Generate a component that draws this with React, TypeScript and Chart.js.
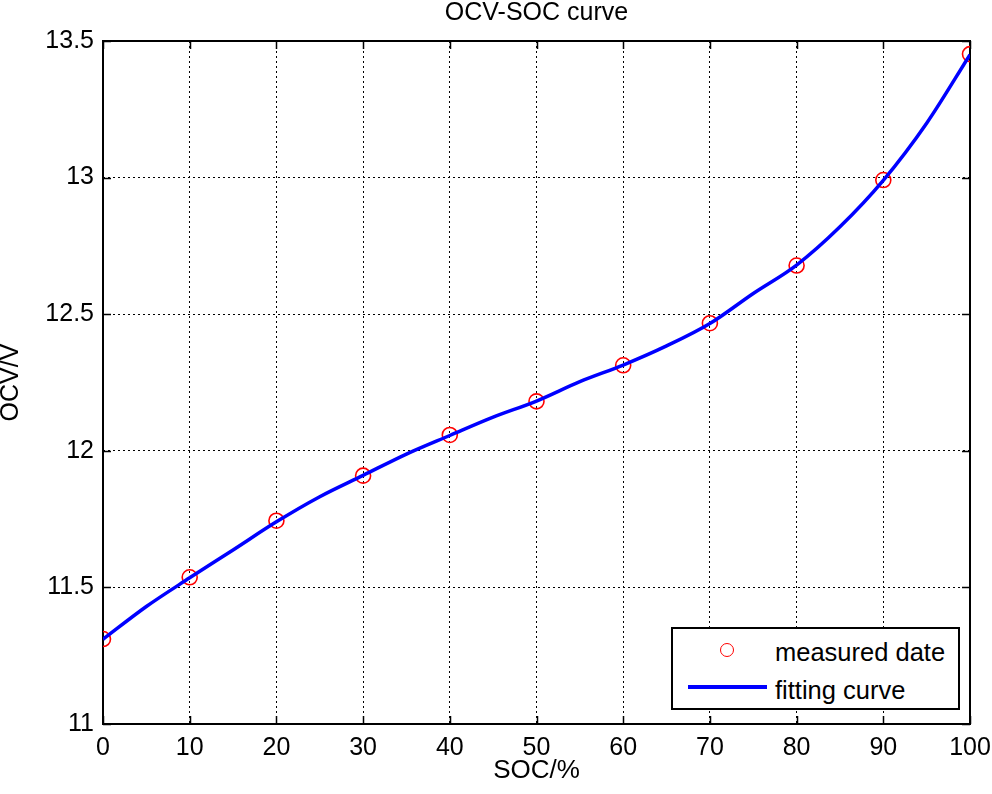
import React, { useEffect, useRef } from 'react';
import { Chart, registerables } from 'chart.js';

Chart.register(...registerables);

// ---- data ----
const socMeasured = [0, 10, 20, 30, 40, 50, 60, 70, 80, 90, 100];
const ocvMeasured = [11.311, 11.537, 11.744, 11.909, 12.058, 12.181, 12.313, 12.467, 12.678, 12.991, 13.452];

const socFit = [0, 5, 10, 15, 20, 25, 30, 35, 40, 45, 50, 55, 60, 65, 70, 75, 80, 85, 90, 95, 100];
const ocvFit = [11.31, 11.43, 11.535, 11.637, 11.74, 11.832, 11.91, 11.988, 12.056, 12.123, 12.182, 12.253, 12.314, 12.384, 12.466, 12.576, 12.68, 12.82, 12.99, 13.199, 13.45];

const xTicks = [0, 10, 20, 30, 40, 50, 60, 70, 80, 90, 100];
const yTicks = [11, 11.5, 12, 12.5, 13, 13.5];

const titleText = 'OCV-SOC curve';
const xLabel = 'SOC/%';
const yLabel = 'OCV/V';
const legendMeasured = 'measured date';
const legendFit = 'fitting curve';

const FONT = "'Liberation Sans', Arial, Helvetica, sans-serif";

const framePlugin = {
  id: 'matlabFrame',
  beforeDatasetsDraw(chart: any) {
    const { ctx, chartArea, scales } = chart;
    const { left, right, top, bottom } = chartArea;
    const x = scales.x;
    const y = scales.y;
    ctx.save();
    ctx.setLineDash([]);
    ctx.strokeStyle = '#000';
    ctx.lineWidth = 1.5;
    ctx.beginPath();
    const tl = 8;
    for (const t of x.ticks) {
      const px = Math.round(x.getPixelForValue(t.value)) + 0.5;
      ctx.moveTo(px, bottom);
      ctx.lineTo(px, bottom - tl);
      ctx.moveTo(px, top);
      ctx.lineTo(px, top + tl);
    }
    for (const t of y.ticks) {
      const py = Math.round(y.getPixelForValue(t.value)) + 0.5;
      ctx.moveTo(left, py);
      ctx.lineTo(left + tl, py);
      ctx.moveTo(right, py);
      ctx.lineTo(right - tl, py);
    }
    ctx.stroke();
    ctx.lineWidth = 2;
    ctx.strokeRect(left, top, right - left, bottom - top);
    ctx.restore();
  },
};

export default function App() {
  const canvasRef = useRef<HTMLCanvasElement | null>(null);

  useEffect(() => {
    const canvas = canvasRef.current;
    if (!canvas) return;
    const chart = new Chart(canvas, {
      type: 'scatter',
      data: {
        datasets: [
          {
            type: 'line',
            label: legendFit,
            data: socFit.map((s, i) => ({ x: s, y: ocvFit[i] })),
            borderColor: '#0000ff',
            backgroundColor: '#0000ff',
            borderWidth: 3.5,
            pointRadius: 0,
            showLine: true,
            fill: false,
            cubicInterpolationMode: 'monotone',
            order: 0,
          } as any,
          {
            type: 'scatter',
            label: legendMeasured,
            data: socMeasured.map((s, i) => ({ x: s, y: ocvMeasured[i] })),
            borderColor: '#ff0000',
            backgroundColor: 'rgba(0,0,0,0)',
            borderWidth: 1.6,
            pointRadius: 7.5,
            pointStyle: 'circle',
            showLine: false,
            order: 1,
          } as any,
        ],
      },
      options: {
        responsive: false,
        animation: false,
        layout: { padding: { left: 0, right: 22, top: 0, bottom: 0 } },
        plugins: {
          legend: { display: false },
          tooltip: { enabled: false },
          title: { display: false },
        },
        scales: {
          xTop: {
            type: 'linear',
            position: 'top',
            min: 0,
            max: 100,
            ticks: { display: false },
            grid: { display: false, drawTicks: false },
            border: { display: false },
            afterFit: (scale: any) => {
              scale.height = 41;
              scale.paddingLeft = 0;
              scale.paddingRight = 0;
            },
            title: {
              display: true,
              text: titleText,
              color: '#000',
              font: { family: FONT, size: 25, weight: 'normal', lineHeight: 1 },
              padding: { top: 1, bottom: 0 },
            },
          },
          x: {
            type: 'linear',
            position: 'bottom',
            min: 0,
            max: 100,
            afterBuildTicks: (scale: any) => {
              scale.ticks = xTicks.map((v) => ({ value: v }));
            },
            afterFit: (scale: any) => {
              scale.height = 70;
              scale.paddingLeft = 0;
              scale.paddingRight = 0;
            },
            ticks: {
              color: '#000',
              font: { family: FONT, size: 25 },
              padding: 9,
              maxRotation: 0,
              autoSkip: false,
              callback: (v: any) => String(v),
            },
            grid: { color: '#000', lineWidth: 1, drawTicks: false },
            border: { display: false, dash: [2, 3] },
            title: {
              display: true,
              text: xLabel,
              color: '#000',
              font: { family: FONT, size: 26, lineHeight: 1 },
              padding: { top: 0, bottom: 10 },
            },
          },
          y: {
            type: 'linear',
            min: 11,
            max: 13.5,
            afterBuildTicks: (scale: any) => {
              scale.ticks = yTicks.map((v) => ({ value: v }));
            },
            afterFit: (scale: any) => {
              scale.width = 103;
              scale.paddingTop = 0;
              scale.paddingBottom = 0;
            },
            ticks: {
              color: '#000',
              font: { family: FONT, size: 25 },
              padding: 9,
              autoSkip: false,
              callback: (v: any) => String(v),
            },
            grid: { color: '#000', lineWidth: 1, drawTicks: false },
            border: { display: false, dash: [2, 3] },
            title: {
              display: true,
              text: yLabel,
              color: '#000',
              font: { family: FONT, size: 25, lineHeight: 1 },
              padding: { top: -1, bottom: 0 },
            },
          },
        },
      },
      plugins: [framePlugin],
    } as any);
    return () => chart.destroy();
  }, []);

  return (
    <div style={{ position: 'absolute', left: 0, top: 0, width: 992, height: 794, background: '#fff' }}>
      <canvas ref={canvasRef} width={992} height={794} style={{ display: 'block', width: 992, height: 794 }} />
      <div
        style={{
          position: 'absolute',
          left: 671,
          top: 627,
          width: 289,
          height: 83,
          boxSizing: 'border-box',
          border: '2px solid #000',
          background: '#fff',
          fontFamily: FONT,
          fontSize: 25.5,
          color: '#000',
        }}
      >
        <div
          style={{
            position: 'absolute',
            left: 727 - 671 - 2 - 7,
            top: 650 - 627 - 2 - 7,
            width: 14,
            height: 14,
            boxSizing: 'border-box',
            border: '1.6px solid #ff0000',
            borderRadius: '50%',
          }}
        />
        <div style={{ position: 'absolute', left: 775 - 671 - 2, top: 652 - 627 - 2 - 14, lineHeight: '28px', whiteSpace: 'nowrap' }}>
          {legendMeasured}
        </div>
        <div
          style={{
            position: 'absolute',
            left: 688 - 671 - 2,
            top: 687 - 627 - 2 - 2,
            width: 79,
            height: 4,
            background: '#0000ff',
          }}
        />
        <div style={{ position: 'absolute', left: 775 - 671 - 2, top: 690 - 627 - 2 - 14, lineHeight: '28px', whiteSpace: 'nowrap' }}>
          {legendFit}
        </div>
      </div>
    </div>
  );
}
